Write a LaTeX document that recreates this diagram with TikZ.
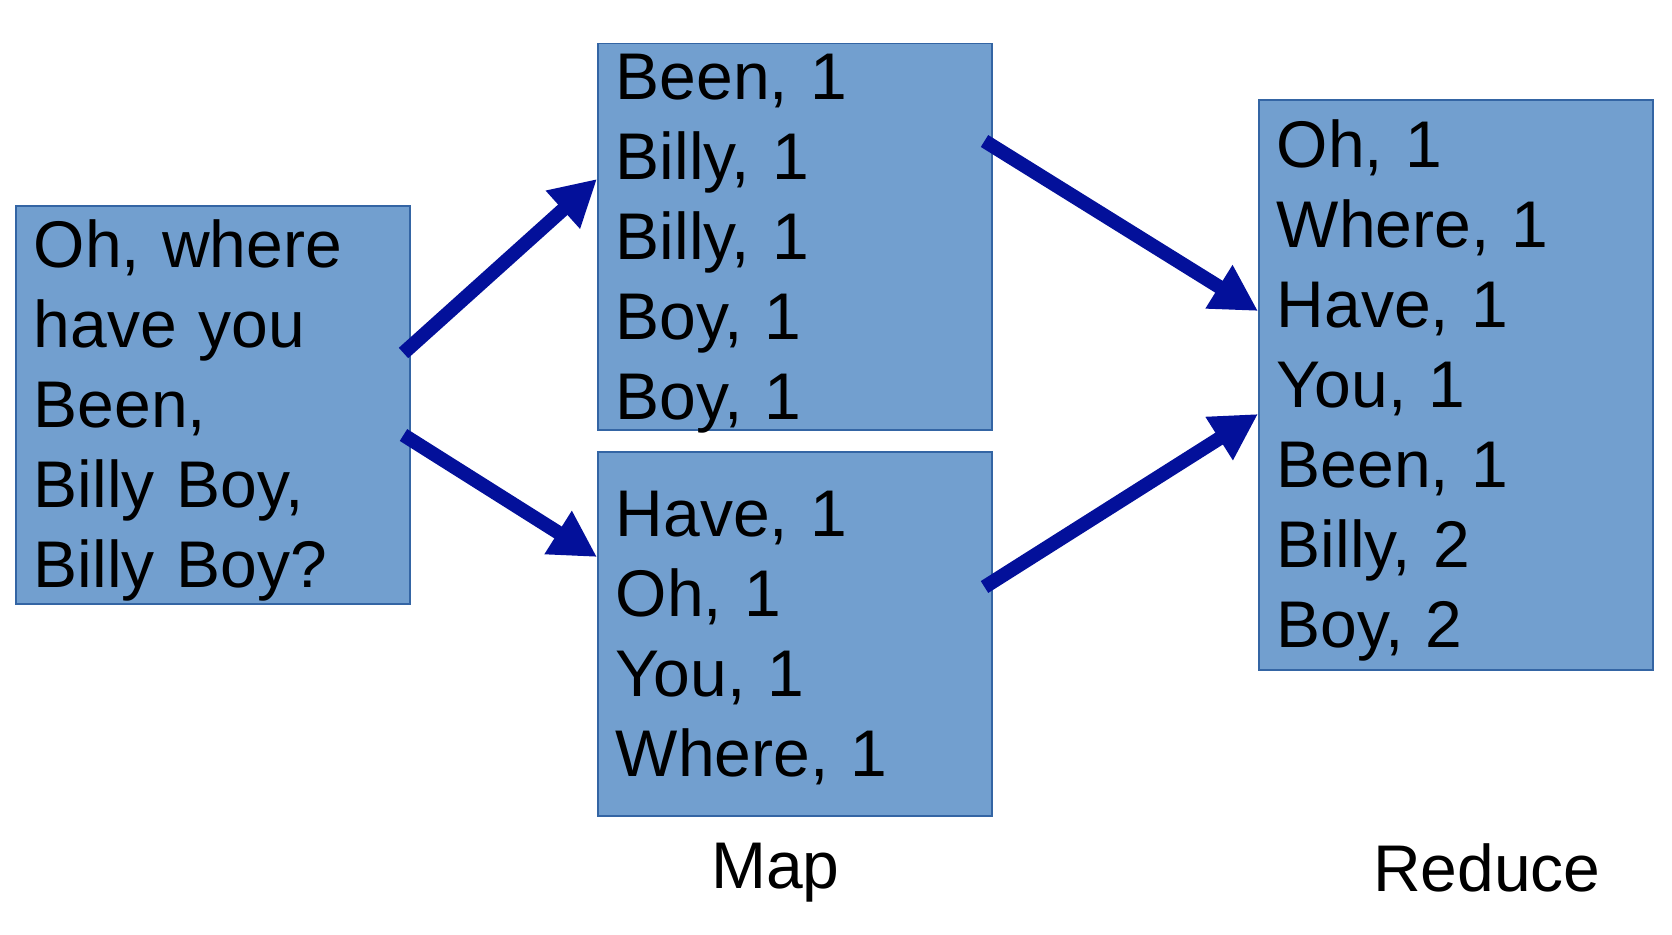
\documentclass[tikz,border=0pt]{standalone}
\usepackage{fontspec}
\setmainfont{Liberation Sans}
\usetikzlibrary{arrows.meta}
\definecolor{boxfill}{HTML}{729FCF}
\definecolor{boxline}{HTML}{3465A4}
\definecolor{arrowblue}{HTML}{03109A}

\begin{document}
\begin{tikzpicture}[
      x=1pt, y=-1pt,
      box/.style={
        draw=boxline, fill=boxfill, line width=1.5pt, anchor=north west,
        align=left, text width=358pt, inner xsep=18pt, inner ysep=0pt,
        minimum width=394pt, text height=48pt,
        font=\fontsize{66}{80}\selectfont
      },
      caption/.style={anchor=base west, inner sep=0pt, font=\fontsize{66}{80}\selectfont},
      arrow/.style={-{Triangle[length=46pt, width=48pt]}, line width=14pt, draw=arrowblue}
    ]
    \useasboundingbox (0,0) rectangle (1672,934);

    \node[box, minimum height=398pt, text depth=322pt] (input) at (15,205)
      {Oh, where\\have you\\Been,\\Billy Boy,\\Billy Boy?};
    \node[box, minimum height=386pt, text depth=322pt] (upper) at (597,43)
      {Been, 1\\Billy, 1\\Billy, 1\\Boy, 1\\Boy, 1};
    \node[box, minimum height=364pt, text depth=242pt] (lower) at (597,451)
      {Have, 1\\Oh, 1\\You, 1\\Where, 1};
    \node[box, minimum height=570pt, text depth=482pt] (reduce) at (1258,99)
      {Oh, 1\\Where, 1\\Have, 1\\You, 1\\Been, 1\\Billy, 2\\Boy, 2};

    \node[caption] (maplabel) at (711,888) {Map};
    \node[caption] (reducelabel) at (1373,891) {Reduce};

    \draw[arrow] ([shift={(-7pt,-148pt)}]input.north east) -- ([yshift=-136pt]upper.north west);
    \draw[arrow] ([shift={(-7pt,-230pt)}]input.north east) -- ([yshift=-106pt]lower.north west);
    \draw[arrow] ([shift={(-8pt,-98pt)}]upper.north east) -- ([yshift=-212pt]reduce.north west);
    \draw[arrow] ([shift={(-8pt,-136pt)}]lower.north east) -- ([yshift=-315pt]reduce.north west);
  \end{tikzpicture}
\end{document}
